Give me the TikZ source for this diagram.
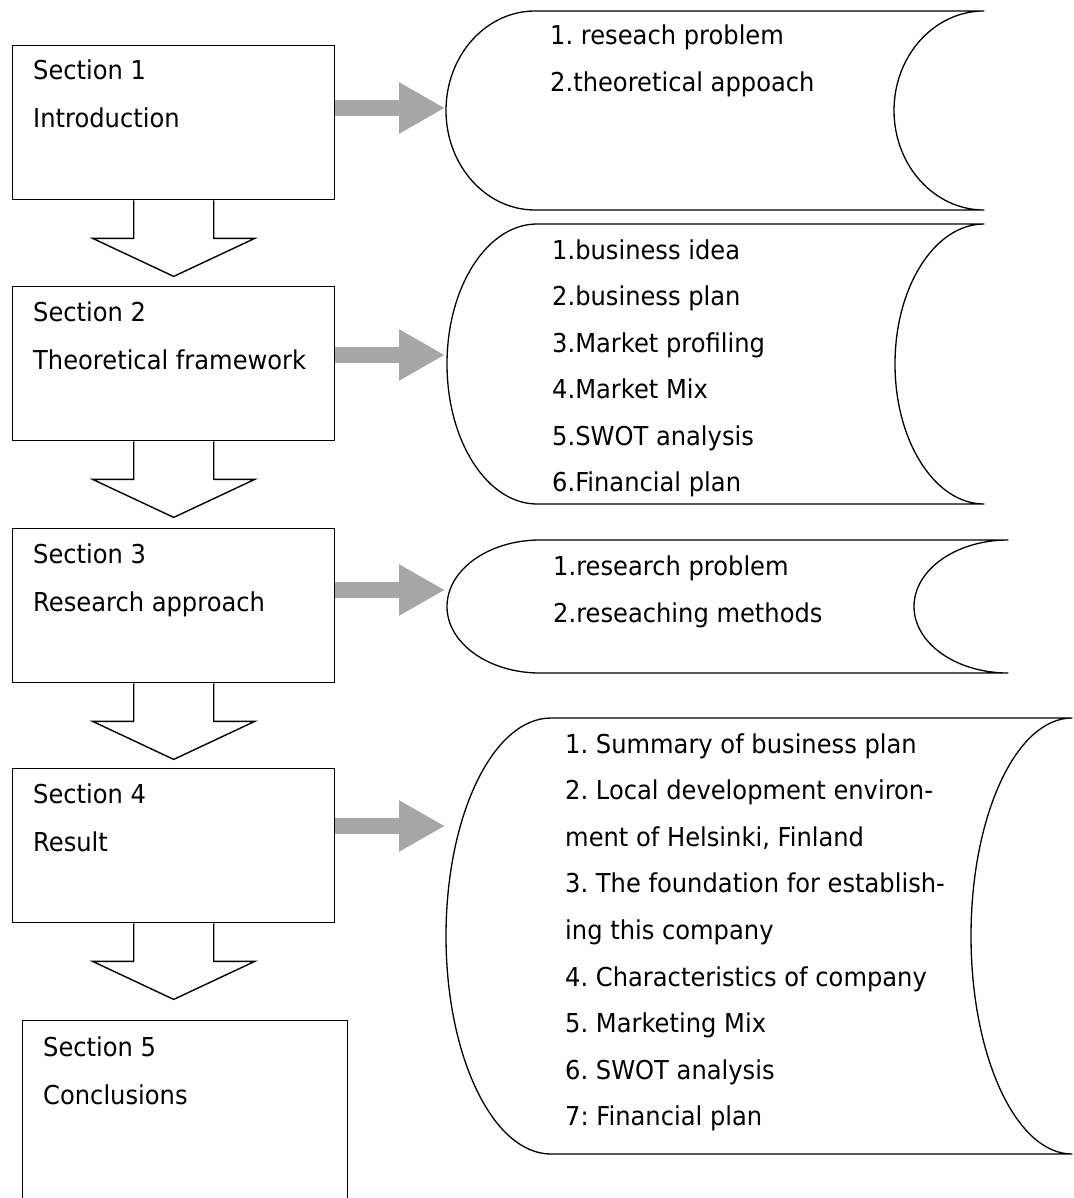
\documentclass[tikz,border=0pt]{standalone}
\usepackage{fontspec}
\setmainfont{DejaVu Sans}[FakeStretch=0.93]
\usetikzlibrary{arrows.meta}
\definecolor{arrowgray}{HTML}{A6A6A6}
\newcommand\scrollshape[7]{%
  \draw[scrollline] (#3,#1) -- (#5,#1)
    arc[start angle=270,end angle=90,x radius=#6,y radius={(#2-#1)/2}]
    -- (#3,#2)
    arc[start angle=90,end angle=270,x radius=#4,y radius={(#2-#1)/2}]
    -- cycle;
  \coordinate (#7) at ({#3-#4},{(#1+#2)/2});}
\newcommand\downblock[1]{%
  \draw[downblk] (#1.south) ++(-40,0) -- ++(0,38) -- ++(-41,0) -- ++(81,38)
    -- ++(81,-38) -- ++(-41,0) -- ++(0,-38);}
\begin{document}
\begin{tikzpicture}[x=1pt,y=-1pt,
  secbox/.style={draw, line width=1.4pt, minimum width=322pt, minimum height=154pt,
    anchor=north west, inner sep=0pt},
  txt/.style={anchor=base west, inner sep=0pt, font=\fontsize{26}{30}\selectfont\frenchspacing},
  scrollline/.style={line width=1.3pt, line join=round},
  downblk/.style={line width=1.4pt, line join=miter},
  grayarrow/.style={line width=16pt, draw=arrowgray,
    -{Triangle[length=46pt,width=48pt,fill=arrowgray]}}]
\clip (0,0) rectangle (1073,1198);
\fill[white] (0,0) rectangle (1073,1198);

% section boxes
\node[secbox] (b1) at (12,45) {};
\node[secbox] (b2) at (12,286) {};
\node[secbox] (b3) at (12,528) {};
\node[secbox] (b4) at (12,768) {};
\node[secbox, minimum width=325pt, minimum height=220pt] (b5) at (22,1020) {};

\node[txt] (b1t1) at (33,80) {Section 1};
\node[txt] (b1t2) at (33,128) {Introduction};
\node[txt] (b2t1) at (33,321) {Section 2};
\node[txt] (b2t2) at (33,369) {Theoretical framework};
\node[txt] (b3t1) at (33,563) {Section 3};
\node[txt] (b3t2) at (33,611) {Research approach};
\node[txt] (b4t1) at (33,803) {Section 4};
\node[txt] (b4t2) at (33,851) {Result};
\node[txt] (b5t1) at (43,1056) {Section 5};
\node[txt] (b5t2) at (43,1104) {Conclusions};

% down block arrows
\downblock{b1}
\downblock{b2}
\downblock{b3}
\downblock{b4}

% scroll shapes
\scrollshape{11}{210}{535}{89}{984}{90}{s1}
\scrollshape{224}{504}{537}{90}{984}{89}{s2}
\scrollshape{540}{673}{540}{93}{1008}{94}{s3}
\scrollshape{718}{1154}{551}{105}{1072}{101}{s4}

% arrow tips
\coordinate (a1) at (445,108);
\coordinate (a2) at (445,355);
\coordinate (a3) at (445,590);
\coordinate (a4) at (445,826);
\draw[grayarrow] (b1.east |- a1) -- (a1);
\draw[grayarrow] (b2.east |- a2) -- (a2);
\draw[grayarrow] (b3.east |- a3) -- (a3);
\draw[grayarrow] (b4.east |- a4) -- (a4);

% scroll texts
\node[txt] (s1t1) at (550,45) {1. reseach problem};
\node[txt] (s1t2) at (550,92) {2.theoretical appoach};

\node[txt] (s2t1) at (552,259) {1.business idea};
\node[txt] (s2t2) at (552,305.5) {2.business plan};
\node[txt] (s2t3) at (552,352) {3.Market profiling};
\node[txt] (s2t4) at (552,398.5) {4.Market Mix};
\node[txt] (s2t5) at (552,445) {5.SWOT analysis};
\node[txt] (s2t6) at (552,491.5) {6.Financial plan};

\node[txt] (s3t1) at (553,575) {1.research problem};
\node[txt] (s3t2) at (553,622) {2.reseaching methods};

\node[txt] (s4t1) at (565,753) {1. Summary of business plan};
\node[txt] (s4t2) at (565,799.6) {2. Local development environ-};
\node[txt] (s4t3) at (565,846.2) {ment of Helsinki, Finland};
\node[txt] (s4t4) at (565,892.8) {3. The foundation for establish-};
\node[txt] (s4t5) at (565,939.4) {ing this company};
\node[txt] (s4t6) at (565,986) {4. Characteristics of company};
\node[txt] (s4t7) at (565,1032.6) {5. Marketing Mix};
\node[txt] (s4t8) at (565,1079.2) {6. SWOT analysis};
\node[txt] (s4t9) at (565,1125.8) {7: Financial plan};
\end{tikzpicture}
\end{document}
